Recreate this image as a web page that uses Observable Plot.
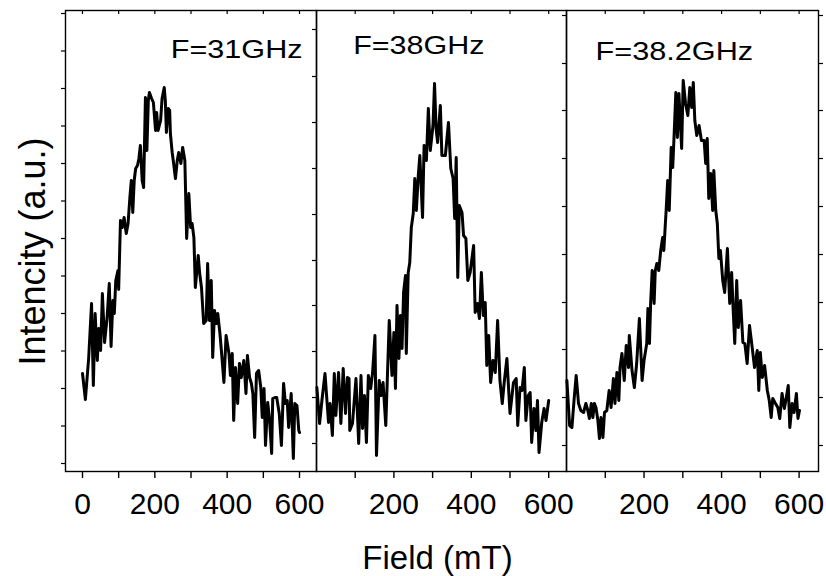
<!DOCTYPE html>
<html><head><meta charset="utf-8">
<script src="https://cdn.jsdelivr.net/npm/d3@7"></script>
<script src="https://cdn.jsdelivr.net/npm/@observablehq/plot@0.6"></script>
<style>
body{margin:0;background:#fff;}
#chart{position:relative;width:826px;height:576px;font-family:"Liberation Sans",Arial,sans-serif;}
#chart svg{position:absolute;top:0;}
</style></head><body><div id="chart"></div>
<script>
// ---- data (Field in mT, Intensity in arbitrary units) ----
const freqLabels = ["F=31GHz", "F=38GHz", "F=38.2GHz"];

const field1 = [0,8,17,25,30,35,41,45,50,55,61,68,74,79,84,88,92,98,100,105,110,115,121,126,131,135,139,143,147,152,156,160,165,169,174,178,182,185,191,196,202,205,209,216,220,226,229,232,237,241,243,248,252,257,262,266,272,277,283,288,294,299,303,308,312,320,324,329,335,342,346,351,356,360,365,370,374,380,384,391,397,405,409,414,418,423,429,434,439,446,452,456,462,467,471,476,481,487,493,497,502,506,512,517,523,526,532,537,544,550,556,561,566,570,577,583,587,593,598,600];
const int1 = [98,72,113,168,86,158,111,143,121,178,129,154,188,125,171,158,191,201,182,251,244,254,238,248,274,291,259,291,303,306,313,326,291,284,374,321,371,379,373,369,341,359,341,351,373,384,371,339,363,361,338,319,308,293,311,319,308,324,311,233,278,244,248,234,184,216,198,184,148,151,208,151,191,114,161,148,158,138,121,89,136,118,96,118,51,104,68,108,94,111,78,116,94,88,78,34,98,101,84,54,83,26,69,53,18,73,74,74,58,26,88,68,71,44,78,13,68,66,41,39];

const field2 = [1,8,14,22,31,35,41,46,50,57,63,69,75,80,84,86,93,102,109,115,119,124,129,134,140,145,151,155,162,167,172,179,188,195,200,204,208,213,217,221,225,230,232,237,241,245,250,254,258,263,267,274,278,284,289,294,301,305,309,313,320,324,333,341,347,353,357,361,365,369,376,380,386,391,397,406,410,416,421,426,431,436,440,445,450,456,462,468,474,480,485,492,500,509,516,520,526,531,537,541,547,552,556,562,567,571,575,582,588,593,600];
const int2 = [84,48,71,98,49,68,36,98,56,99,48,103,58,94,93,41,48,93,28,96,43,76,29,96,83,99,136,16,91,76,89,46,151,96,139,83,166,113,156,123,179,196,118,199,209,244,258,293,261,296,316,254,326,311,363,321,346,388,343,329,366,316,316,349,303,293,253,314,194,266,259,236,233,191,199,226,159,168,153,199,156,169,106,136,89,111,99,151,91,68,89,113,58,89,93,46,84,81,104,51,76,79,29,63,41,71,19,49,63,51,71];

const field3 = [1,8,14,20,25,31,37,44,50,55,59,64,68,72,76,81,85,89,94,98,104,110,115,121,125,130,135,138,143,149,154,160,162,169,175,181,188,195,200,207,210,214,217,221,226,229,233,238,243,248,251,257,261,265,270,274,277,282,286,290,297,301,307,313,318,323,327,331,336,342,348,355,359,363,367,372,377,380,385,389,393,397,403,408,415,421,426,430,434,439,443,449,455,460,466,472,479,485,492,496,500,505,511,518,523,528,532,539,545,550,556,562,567,572,576,582,587,593,597,601];
const int3 = [91,46,44,74,96,68,61,59,68,61,53,68,54,68,64,51,33,54,34,59,61,81,64,93,68,99,71,104,118,91,126,104,136,101,84,108,153,91,111,128,163,128,168,201,168,201,208,201,221,234,221,261,291,261,324,304,331,379,334,378,323,391,368,356,384,364,389,351,336,346,331,331,308,333,273,298,261,301,261,248,213,221,191,179,223,168,199,161,128,191,144,171,129,128,108,146,124,104,121,81,119,94,106,81,71,54,73,68,64,53,78,63,74,86,44,68,59,78,53,61];

const xTicks1 = [0,100,200,300,400,500,600];
const xTickLabels1 = ["0","","200","","400","","600"];
const xTicks23 = [100,200,300,400,500,600];
const xTickLabels23 = ["","200","","400","","600"];

const yTicks1 = [8,45.5,83,120.5,158,195.5,233,270.5,308,345.5,383,420.5,458];
const yTicks2 = [28,74,120,166,211,257,303,349,395,442];
const yTicks3 = [26,74,122,169,217,265,313,361,408,456];

const xTitle = "Field (mT)";
const yTitle = "Intencity (a.u.)";

// ---- layout / styling per panel ----
const FONT = "'Liberation Sans', Arial, Helvetica, sans-serif";
const panels = [
  {field: field1, intensity: int1, label: freqLabels[0], xDomain: [-47, 647], xTicks: xTicks1, xTickLabels: xTickLabels1, yTicks: yTicks1,
   left: 0, width: 326, ml: 65, mr: 10,
   labelOpts: {frameAnchor: "top-right", textAnchor: "end", dx: -14, dy: 29.3}, labelLen: 131.7, yTitle: true, rightTicks: false},
  {field: field2, intensity: int2, label: freqLabels[1], xDomain: [0, 646], xTicks: xTicks23, xTickLabels: xTickLabels23, yTicks: yTicks2,
   left: 306, width: 270, ml: 10, mr: 10,
   labelOpts: {frameAnchor: "top-left", textAnchor: "start", dx: 36.7, dy: 26}, labelLen: 131.3, xTitle: true, rightTicks: false},
  {field: field3, intensity: int3, label: freqLabels[2], xDomain: [0, 650], xTicks: xTicks23, xTickLabels: xTickLabels23, yTicks: yTicks3,
   left: 556, width: 270, ml: 10, mr: 8,
   labelOpts: {frameAnchor: "top-left", textAnchor: "start", dx: 29, dy: 31.7}, labelLen: 157.7, rightTicks: true}
];

const chart = document.getElementById("chart");

for (const cfg of panels) {
  const data = cfg.field.map((f, k) => ({field: f, intensity: cfg.intensity[k]}));
  const tickText = new Map(cfg.xTicks.map((t, k) => [t, cfg.xTickLabels[k]]));
  const marks = [
    Plot.line(data, {x: "field", y: "intensity", stroke: "black", strokeWidth: 3}),
    Plot.frame({stroke: "black", strokeWidth: 1.4}),
    Plot.axisX({anchor: "bottom", ticks: cfg.xTicks, tickSize: 7, tickPadding: 14, fontSize: 30,
      tickFormat: d => tickText.get(d) ?? "", label: null, strokeWidth: 1.4}),
    Plot.ruleX(cfg.xTicks, {x: d => d, y1: 461, y2: 457, stroke: "black", strokeWidth: 1.2}),
    Plot.axisY({anchor: "left", ticks: cfg.yTicks, tickSize: 4, tickFormat: () => "", label: null, strokeWidth: 1.2}),
    Plot.text([cfg.label], {text: d => d, lineAnchor: "top", fontSize: 25, ...cfg.labelOpts})
  ];
  if (cfg.rightTicks) {
    marks.push(Plot.axisY({anchor: "right", ticks: cfg.yTicks, tickSize: 4, tickFormat: () => "", label: null, strokeWidth: 1.2}));
  }
  if (cfg.yTitle) {
    marks.push(Plot.text([yTitle], {text: d => d, frameAnchor: "left", rotate: -90, textAnchor: "middle", lineAnchor: "bottom", dx: -21, dy: 10.5, fontSize: 36}));
  }
  if (cfg.xTitle) {
    marks.push(Plot.text([xTitle], {text: d => d, frameAnchor: "bottom", textAnchor: "middle", lineAnchor: "bottom", dx: -4, dy: 97, fontSize: 33}));
  }
  const svg = Plot.plot({
    width: cfg.width,
    height: 576,
    marginLeft: cfg.ml,
    marginRight: cfg.mr,
    marginTop: 10,
    marginBottom: 105,
    x: {domain: cfg.xDomain},
    y: {domain: [0, 461]},
    style: {background: "transparent", overflow: "visible", fontFamily: FONT, color: "black"},
    marks
  });
  svg.style.left = cfg.left + "px";
  svg.style.position = "absolute";
  svg.style.top = "0px";
  svg.querySelectorAll("text").forEach(t => {
    if (t.textContent === cfg.label) {
      t.setAttribute("textLength", cfg.labelLen);
      t.setAttribute("lengthAdjust", "spacingAndGlyphs");
    }
    if (cfg.xTickLabels.includes(t.textContent) && t.textContent !== "") {
      t.style.fontSize = "30px";
      t.setAttribute("font-size", "30");
      const g = t.parentNode;
      if (g && g.tagName === "g") { g.setAttribute("font-size", "30"); g.style.fontSize = "30px"; }
    }
  });
  chart.appendChild(svg);
}
</script>
</body></html>
